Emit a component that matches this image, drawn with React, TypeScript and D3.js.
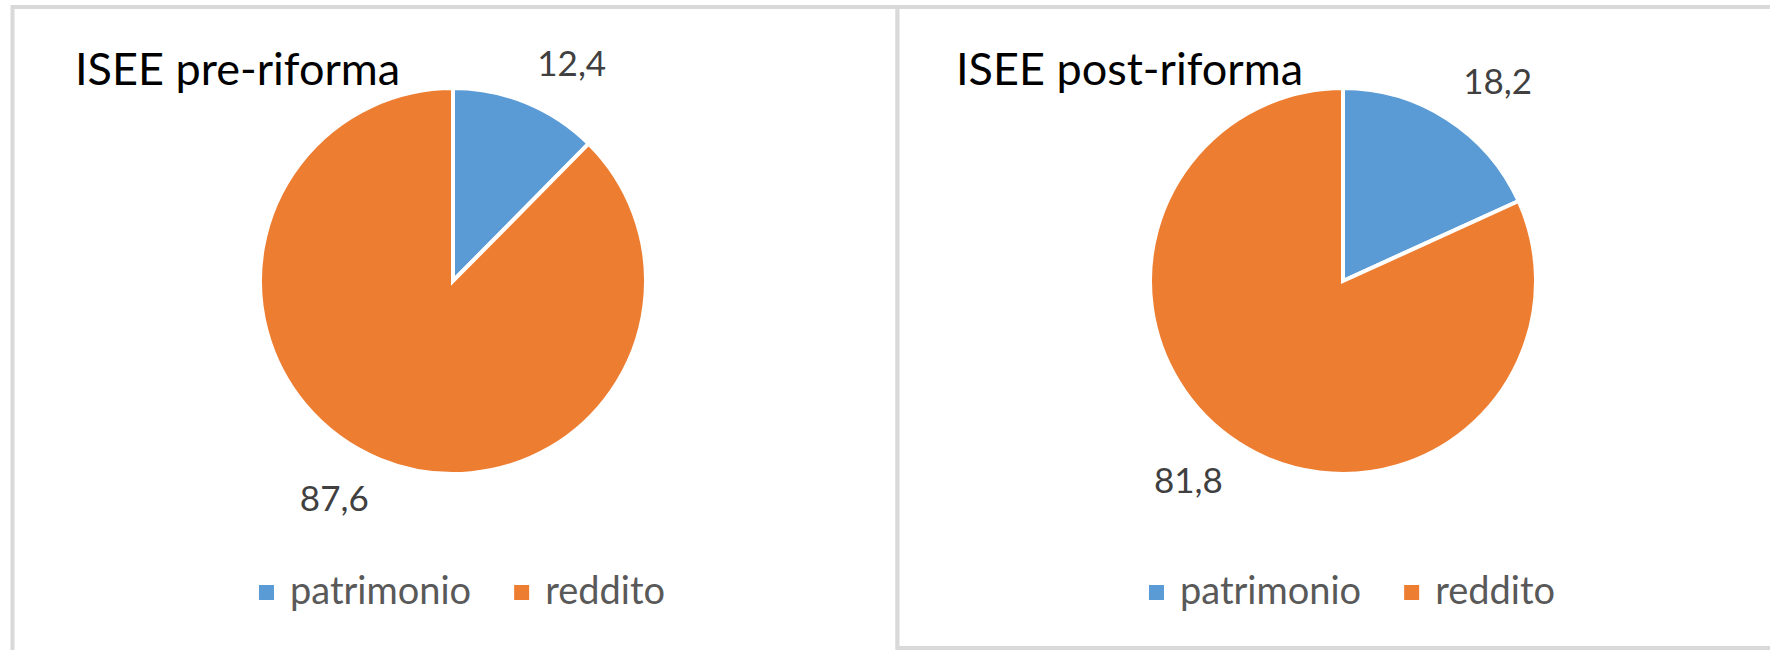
import React, { useEffect, useRef } from "react";
import * as d3 from "d3";

// data
const categories = ["patrimonio", "reddito"];
const preValues = [12.4, 87.6];
const postValues = [18.2, 81.8];
const chartTitles = ["ISEE pre-riforma", "ISEE post-riforma"];
const sliceColors = ["#5B9BD5", "#ED7D31"];

const W = 1770;
const H = 650;
const FONT = "Lato, 'Open Sans', sans-serif";

const itLocale = d3.formatLocale({ decimal: ",", thousands: ".", grouping: [3], currency: ["€", ""] });
const fmt = itLocale.format(".1f");

// layout of the two panels
const panels = [
  { x: 12.5, w: 885, h: H + 10, cx: 453, titleX: 75, values: preValues, title: chartTitles[0] },
  { x: 897.5, w: 880, h: H - 9, cx: 1343, titleX: 956, values: postValues, title: chartTitles[1] },
];

export default function App() {
  const svgRef = useRef<SVGSVGElement>(null);

  useEffect(() => {
    const svg = d3.select(svgRef.current);
    svg.selectAll("*").remove();

    const cy = 281;
    const radius = 191;
    const gapStroke = 4;

    const color = d3.scaleOrdinal<string, string>().domain(categories).range(sliceColors);
    const pie = d3
      .pie<number>()
      .sort(null)
      .value((d) => d);
    const arc = d3
      .arc<d3.PieArcDatum<number>>()
      .innerRadius(0)
      .outerRadius(radius + gapStroke / 2);
    const labelR = radius + 31;
    const labelArc = d3.arc<d3.PieArcDatum<number>>().innerRadius(labelR).outerRadius(labelR);

    panels.forEach((p) => {
      // panel frame
      svg
        .append("rect")
        .attr("x", p.x)
        .attr("y", 7)
        .attr("width", p.w)
        .attr("height", p.h)
        .attr("fill", "#fff")
        .attr("stroke", "#d9d9d9")
        .attr("stroke-width", 4);

      svg
        .append("text")
        .attr("x", p.titleX)
        .attr("y", 85)
        .attr("font-family", FONT)
        .attr("font-size", 45)
        .attr("fill", "#000")
        .text(p.title);

      const g = svg.append("g").attr("transform", `translate(${p.cx},${cy})`);
      const arcs = pie(p.values);

      g.selectAll("path")
        .data(arcs)
        .enter()
        .append("path")
        .attr("d", arc)
        .attr("fill", (d, i) => color(categories[i]))
        .attr("stroke", "#fff")
        .attr("stroke-width", gapStroke);

      // data labels, outside end like Excel
      g.selectAll("text.lbl")
        .data(arcs)
        .enter()
        .append("text")
        .attr("class", "lbl")
        .attr("x", (d) => labelArc.centroid(d)[0])
        .attr("y", (d) => {
          const c = labelArc.centroid(d);
          return c[1] < 0 ? c[1] : c[1] + 25;
        })
        .attr("text-anchor", (d) => (labelArc.centroid(d)[0] >= 0 ? "start" : "end"))
        .attr("font-family", FONT)
        .attr("font-size", 35)
        .attr("fill", "#404040")
        .text((d) => fmt(d.data));

      // legend
      const leg = svg.append("g");
      let lx = 0;
      categories.forEach((c, i) => {
        leg
          .append("rect")
          .attr("x", lx)
          .attr("y", 585)
          .attr("width", 15)
          .attr("height", 15)
          .attr("fill", color(c));
        const t = leg
          .append("text")
          .attr("x", lx + 31)
          .attr("y", 604)
          .attr("font-family", FONT)
          .attr("font-size", 38)
          .attr("fill", "#595959")
          .text(c);
        const tw = (t.node() as SVGTextElement).getComputedTextLength();
        lx += 31 + tw + 43;
      });
      const legW = lx - 43;
      leg.attr("transform", `translate(${p.cx + 9 - legW / 2},0)`);
    });
  }, []);

  return (
    <div style={{ position: "absolute", left: 0, top: 0, background: "#fff" }}>
      <svg ref={svgRef} width={W} height={H} style={{ display: "block" }} />
    </div>
  );
}
